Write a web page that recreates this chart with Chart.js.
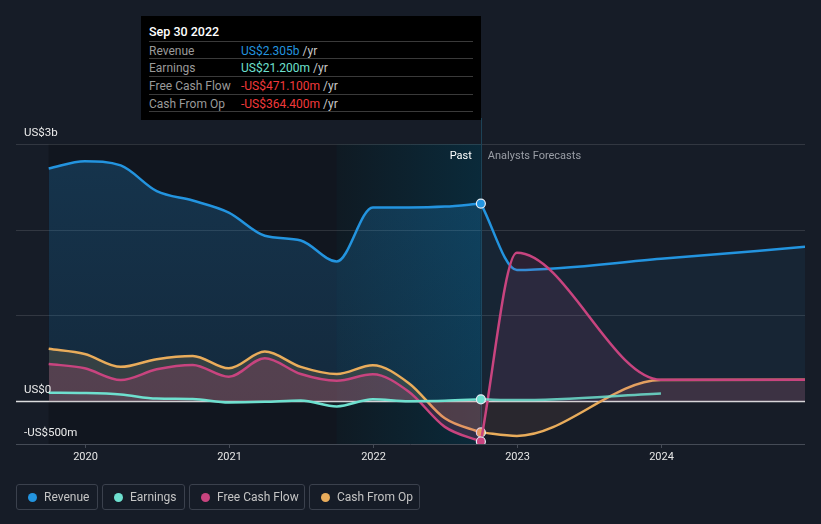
<!DOCTYPE html>
<html>
<head>
<meta charset="utf-8">
<script src="https://cdn.jsdelivr.net/npm/chart.js@4.4.0/dist/chart.umd.min.js"></script>
<style>
  html, body { margin:0; padding:0; background:#161c27; width:821px; height:524px; overflow:hidden; font-family: Roboto, "Open Sans", sans-serif; }
  #wrap { position:relative; width:821px; height:524px; }
  canvas { position:absolute; left:0; top:0; }
  #tip { position:absolute; left:141px; top:16px; width:340px; height:104px; background:#000; color:#fff; font-size:12px; }
  #tip .title { position:absolute; left:8px; top:15px; transform:translateY(-50%); font-size:12.5px; font-weight:500; color:#fff; }
  #tip .row { position:absolute; left:8px; width:324px; border-top:1px solid #3a3a3a; }
  #tip .lab { position:absolute; left:0; top:50%; transform:translateY(-50%); color:#9a9a9a; }
  #tip .val { position:absolute; left:92px; top:50%; transform:translateY(-50%); white-space:nowrap; }
  #tip .unit { color:#c8c8c8; }
  #tip .last { position:absolute; left:8px; width:324px; top:95px; border-top:1px solid #3a3a3a; }
  .lg { position:absolute; top:484px; height:26px; border:1px solid #3b414d; border-radius:3px; box-sizing:border-box; color:#c4c4c4; font-size:12px; }
  .lg .dot { position:absolute; left:11px; top:50%; width:9px; height:9px; margin-top:-4.5px; border-radius:50%; }
  .lg .txt { position:absolute; left:27px; top:50%; transform:translateY(-50%); white-space:nowrap; }
</style>
</head>
<body>
<div id="wrap">
  <canvas id="c" width="821" height="524"></canvas>
  <div id="tip">
    <div class="title">Sep 30 2022</div>
    <div class="row" style="top:25px;height:17px"><span class="lab">Revenue</span><span class="val"><span style="color:#2394df">US$2.305b</span> <span class="unit">/yr</span></span></div>
    <div class="row" style="top:42px;height:18px"><span class="lab">Earnings</span><span class="val"><span style="color:#6ee0cf">US$21.200m</span> <span class="unit">/yr</span></span></div>
    <div class="row" style="top:60px;height:18px"><span class="lab">Free Cash Flow</span><span class="val"><span style="color:#f2393b">-US$471.100m</span> <span class="unit">/yr</span></span></div>
    <div class="row" style="top:78px;height:17px"><span class="lab">Cash From Op</span><span class="val"><span style="color:#f2393b">-US$364.400m</span> <span class="unit">/yr</span></span></div>
    <div class="last"></div>
  </div>
  <div class="lg" style="left:16px;width:82px"><span class="dot" style="background:#2394df"></span><span class="txt">Revenue</span></div>
  <div class="lg" style="left:102px;width:83px"><span class="dot" style="background:#6ee0cf"></span><span class="txt">Earnings</span></div>
  <div class="lg" style="left:189px;width:116px"><span class="dot" style="background:#c8447f"></span><span class="txt">Free Cash Flow</span></div>
  <div class="lg" style="left:309px;width:111px"><span class="dot" style="background:#e9ac5b"></span><span class="txt">Cash From Op</span></div>
</div>
<script>
// ---- data (US$ billions) ----
const pastYears     = [2019.75, 2020, 2020.25, 2020.5, 2020.75, 2021, 2021.25, 2021.5, 2021.75, 2022, 2022.25, 2022.5, 2022.75];
const revenuePast   = [2.715, 2.80, 2.75, 2.45, 2.34, 2.20, 1.93, 1.875, 1.63, 2.26, 2.26, 2.27, 2.305];
const earningsPast  = [0.097, 0.094, 0.078, 0.03, 0.025, -0.015, -0.008, 0.008, -0.062, 0.023, 0.0, 0.004, 0.0212];
const fcfPast       = [0.434, 0.383, 0.246, 0.371, 0.422, 0.285, 0.50, 0.316, 0.238, 0.313, 0.11, -0.30, -0.4711];
const cfoPast       = [0.61, 0.55, 0.40, 0.49, 0.527, 0.383, 0.578, 0.40, 0.316, 0.418, 0.21, -0.20, -0.3644];

const forecastYears = [2022.75, 2023, 2024, 2025];
const revenueFc     = [2.305, 1.53, 1.66, 1.80];
const fcfFc         = [-0.4711, 1.73, 0.25, 0.25];
const cfoFc         = [-0.3644, -0.406, 0.246, 0.25];
const earningsFcYears = [2022.75, 2023, 2024];
const earningsFc    = [0.0212, 0.012, 0.09];

const xTickYears  = [2020, 2021, 2022, 2023, 2024];
const gridValues  = [3, 2, 1, 0, -0.5];
const yLabels     = [{v:3, t:'US$3b'}, {v:0, t:'US$0'}, {v:-0.5, t:'-US$500m'}];
const pastStart = 2019.75, highlightStart = 2021.75, nowYear = 2022.75;

const C = { rev:'#2394df', earn:'#6ee0cf', fcf:'#c8447f', cfo:'#e9ac5b' };

function pts(xs, ys){ return xs.map((x,i)=>({x:x, y:ys[i]})); }
function lastOnly(r){ return ctx => (ctx.dataIndex === ctx.dataset.data.length-1 ? r : 0); }

const base = { borderWidth:2.5, cubicInterpolationMode:'monotone', pointBorderColor:'#e6edf5', pointBorderWidth:1.2, pointHoverRadius:0 };

function revGrad(ctx){
  const ca = ctx.chart.chartArea; if(!ca) return 'rgba(35,148,223,0.2)';
  const g = ctx.chart.ctx.createLinearGradient(0, ca.top, 0, ca.bottom);
  g.addColorStop(0, 'rgba(35,148,223,0.24)');
  g.addColorStop(1, 'rgba(35,148,223,0.14)');
  return g;
}

const datasets = [
  Object.assign({}, base, {label:'Earnings', data:pts(pastYears, earningsPast), borderColor:C.earn, fill:'origin', backgroundColor:'rgba(110,224,207,0.05)', pointRadius:lastOnly(4.5), pointBackgroundColor:C.earn, order:1}),
  Object.assign({}, base, {label:'Earnings F', data:pts(earningsFcYears, earningsFc), borderColor:'rgba(110,224,207,0.85)', fill:false, pointRadius:0, order:1}),
  Object.assign({}, base, {label:'FCF', data:pts(pastYears, fcfPast), borderColor:C.fcf, fill:'origin', backgroundColor:'rgba(210,70,130,0.20)', pointRadius:lastOnly(4.5), pointBackgroundColor:C.fcf, order:2}),
  Object.assign({}, base, {label:'FCF F', data:pts(forecastYears, fcfFc), borderColor:C.fcf, fill:'origin', backgroundColor:'rgba(200,70,140,0.12)', pointRadius:0, order:2}),
  Object.assign({}, base, {label:'CFO', data:pts(pastYears, cfoPast), borderColor:C.cfo, fill:'origin', backgroundColor:'rgba(233,172,91,0.16)', pointRadius:lastOnly(4.5), pointBackgroundColor:C.cfo, order:3}),
  Object.assign({}, base, {label:'CFO F', data:pts(forecastYears, cfoFc), borderColor:C.cfo, fill:'origin', backgroundColor:'rgba(233,150,120,0.09)', pointRadius:0, order:3}),
  Object.assign({}, base, {label:'Revenue', data:pts(pastYears, revenuePast), borderColor:C.rev, fill:'origin', backgroundColor:revGrad, pointRadius:lastOnly(4.5), pointBackgroundColor:C.rev, order:4}),
  Object.assign({}, base, {label:'Revenue F', data:pts(forecastYears, revenueFc), borderColor:C.rev, fill:'origin', backgroundColor:'rgba(35,148,223,0.08)', pointRadius:0, order:4})
];

const decor = {
  id:'decor',
  beforeDatasetsDraw(chart){
    const {ctx, chartArea:ca, scales:{x, y}} = chart;
    const xp = x.getPixelForValue(pastStart), xh = x.getPixelForValue(highlightStart), xn = x.getPixelForValue(nowYear);
    ctx.save();
    ctx.fillStyle = '#11161f';
    ctx.fillRect(xp, ca.top, xh - xp, ca.bottom - ca.top);
    const g = ctx.createLinearGradient(xh, 0, xn, 0);
    g.addColorStop(0, '#0f1a23');
    g.addColorStop(1, '#0a2a3a');
    ctx.fillStyle = g;
    ctx.fillRect(xh, ca.top, xn - xh, ca.bottom - ca.top);
    gridValues.forEach(v => {
      const py = Math.round(y.getPixelForValue(v)) + 0.5;
      ctx.beginPath();
      ctx.moveTo(ca.left - 1, py); ctx.lineTo(ca.right, py);
      if (v === 0) { ctx.strokeStyle = 'rgba(255,255,255,0.85)'; ctx.lineWidth = 1.5; }
      else if (v === -0.5) { ctx.strokeStyle = '#454b56'; ctx.lineWidth = 1; }
      else { ctx.strokeStyle = 'rgba(255,255,255,0.12)'; ctx.lineWidth = 1; }
      ctx.stroke();
    });
    ctx.beginPath();
    ctx.moveTo(Math.round(xn)+0.5, 118); ctx.lineTo(Math.round(xn)+0.5, ca.bottom);
    ctx.strokeStyle = '#1d4256'; ctx.lineWidth = 1; ctx.stroke();
    ctx.restore();
  },
  afterDraw(chart){
    const {ctx, chartArea:ca, scales:{x, y}} = chart;
    ctx.save();
    ctx.font = '11.5px Roboto';
    ctx.fillStyle = '#ececec';
    ctx.textAlign = 'left'; ctx.textBaseline = 'middle';
    yLabels.forEach(l => {
      ctx.fillText(l.t, 24, y.getPixelForValue(l.v) - 11);
    });
    ctx.font = '11px Roboto';
    ctx.textAlign = 'center';
    xTickYears.forEach(t => {
      const px = Math.round(x.getPixelForValue(t)) + 0.5;
      ctx.strokeStyle = '#454b56'; ctx.lineWidth = 1;
      ctx.beginPath(); ctx.moveTo(px, ca.bottom); ctx.lineTo(px, ca.bottom + 4); ctx.stroke();
      ctx.fillStyle = '#e6e6e6';
      ctx.fillText(String(t), px, ca.bottom + 13);
    });
    const xn = x.getPixelForValue(nowYear);
    ctx.font = '11px Roboto';
    ctx.textAlign = 'right'; ctx.fillStyle = '#ffffff';
    ctx.fillText('Past', xn - 9, 156);
    ctx.textAlign = 'left'; ctx.fillStyle = '#9a9ea6';
    ctx.fillText('Analysts Forecasts', xn + 7, 156);
    ctx.restore();
  }
};

new Chart(document.getElementById('c'), {
  type:'line',
  data:{ datasets },
  options:{
    responsive:false, animation:false, devicePixelRatio:1,
    layout:{ padding:{ left:17, right:16, top:144, bottom:80 } },
    scales:{
      x:{ type:'linear', min:2019.53, max:2025, display:false },
      y:{ min:-0.5, max:3, display:false }
    },
    plugins:{ legend:{display:false}, tooltip:{enabled:false} },
    events:[]
  },
  plugins:[decor]
});
</script>
</body>
</html>
